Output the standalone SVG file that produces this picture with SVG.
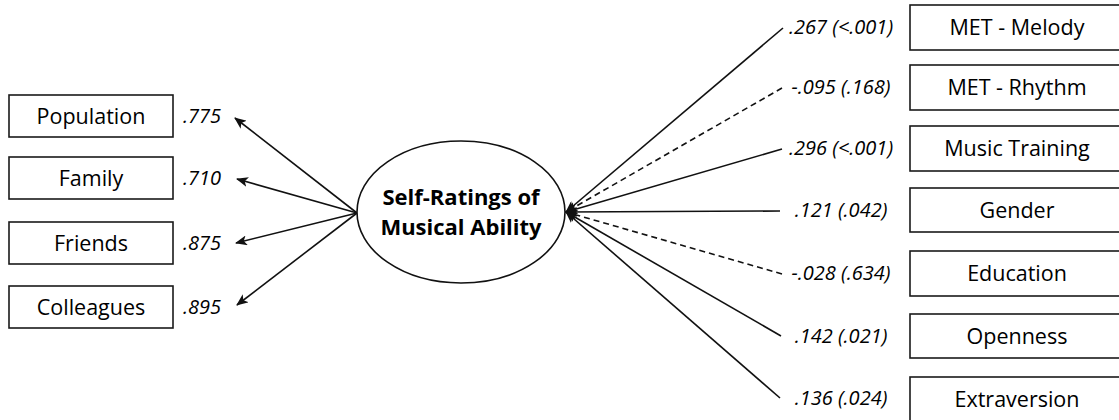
<svg xmlns="http://www.w3.org/2000/svg" width="1119" height="420" viewBox="0 0 1119 420">
<style>
.box{fill:#fff;stroke:#1a1a1a;stroke-width:1.6}
.lbl{font-family:"Open Sans","Noto Sans",sans-serif;font-size:21.5px;fill:#000;text-anchor:middle}
.val{font-family:"Open Sans","Noto Sans",sans-serif;font-size:20px;font-style:italic;fill:#000}
.title{font-family:"Open Sans","Noto Sans",sans-serif;font-size:22px;font-weight:bold;fill:#000;text-anchor:middle}
.ln{fill:none;stroke:#111;stroke-width:1.6}
.dash{stroke-dasharray:6 4}
</style>
<defs>
<marker id="ah" viewBox="0 0 12 10" refX="11" refY="5" markerWidth="12" markerHeight="10" markerUnits="userSpaceOnUse" orient="auto">
<path d="M0,0 L12,5 L0,10 L3,5 Z" fill="#111"/>
</marker>
</defs>
<g id="connectors">
<line class="ln" x1="357" y1="213" x2="235" y2="118" marker-end="url(#ah)"/>
<line class="ln" x1="357" y1="213" x2="237" y2="179" marker-end="url(#ah)"/>
<line class="ln" x1="357" y1="213" x2="236" y2="243" marker-end="url(#ah)"/>
<line class="ln" x1="357" y1="213" x2="237" y2="305" marker-end="url(#ah)"/>
<line class="ln" x1="783" y1="28" x2="566" y2="212" marker-end="url(#ah)"/>
<line class="ln dash" x1="782" y1="88" x2="566" y2="212" marker-end="url(#ah)"/>
<line class="ln" x1="782" y1="149" x2="566" y2="212" marker-end="url(#ah)"/>
<line class="ln" x1="780" y1="211" x2="566" y2="212" marker-end="url(#ah)"/>
<line class="ln dash" x1="782" y1="274" x2="566" y2="212" marker-end="url(#ah)"/>
<line class="ln" x1="781" y1="336" x2="566" y2="212" marker-end="url(#ah)"/>
<line class="ln" x1="780" y1="398" x2="566" y2="212" marker-end="url(#ah)"/>
</g>
<g id="latent">
<ellipse cx="461" cy="212" rx="104" ry="71" fill="#fff" stroke="#111" stroke-width="1.6"/>
<text class="title" x="461" y="205">Self-Ratings of</text>
<text class="title" x="461" y="235">Musical Ability</text>
</g>
<g id="population"><rect class="box" x="9" y="95" width="164" height="42"/><text class="lbl" x="91" y="124">Population</text><text class="val" x="221" y="123" text-anchor="end">.775</text></g>
<g id="family"><rect class="box" x="9" y="157" width="164" height="42"/><text class="lbl" x="91" y="186">Family</text><text class="val" x="221" y="185" text-anchor="end">.710</text></g>
<g id="friends"><rect class="box" x="9" y="222" width="164" height="42"/><text class="lbl" x="91" y="251">Friends</text><text class="val" x="221" y="250" text-anchor="end">.875</text></g>
<g id="colleagues"><rect class="box" x="9" y="286" width="164" height="42"/><text class="lbl" x="91" y="315">Colleagues</text><text class="val" x="221" y="314" text-anchor="end">.895</text></g>
<g id="met-melody"><rect class="box" x="910" y="5" width="214" height="45"/><text class="lbl" x="1017" y="35">MET - Melody</text><text class="val" x="841" y="34" text-anchor="middle">.267 (&lt;.001)</text></g>
<g id="met-rhythm"><rect class="box" x="910" y="65" width="214" height="45"/><text class="lbl" x="1017" y="95">MET - Rhythm</text><text class="val" x="841" y="94" text-anchor="middle">-.095 (.168)</text></g>
<g id="music-training"><rect class="box" x="910" y="126" width="214" height="45"/><text class="lbl" x="1017" y="156">Music Training</text><text class="val" x="841" y="155" text-anchor="middle">.296 (&lt;.001)</text></g>
<g id="gender"><rect class="box" x="910" y="188" width="214" height="44"/><text class="lbl" x="1017" y="218">Gender</text><text class="val" x="841" y="217" text-anchor="middle">.121 (.042)</text></g>
<g id="education"><rect class="box" x="910" y="251" width="214" height="45"/><text class="lbl" x="1017" y="281">Education</text><text class="val" x="841" y="280" text-anchor="middle">-.028 (.634)</text></g>
<g id="openness"><rect class="box" x="910" y="314" width="214" height="44"/><text class="lbl" x="1017" y="344">Openness</text><text class="val" x="841" y="343" text-anchor="middle">.142 (.021)</text></g>
<g id="extraversion"><rect class="box" x="910" y="377" width="214" height="45"/><text class="lbl" x="1017" y="407">Extraversion</text><text class="val" x="841" y="405" text-anchor="middle">.136 (.024)</text></g>
</svg>
